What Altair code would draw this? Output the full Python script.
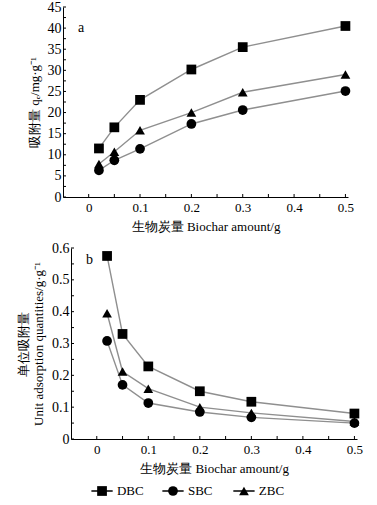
import altair as alt
import pandas as pd

amount = [0.02, 0.05, 0.1, 0.2, 0.3, 0.5]
series = ["DBC", "SBC", "ZBC"]
qe_dbc = [11.5, 16.5, 23.0, 30.2, 35.5, 40.5]
qe_sbc = [6.3, 8.7, 11.4, 17.3, 20.6, 25.1]
qe_zbc = [7.8, 10.7, 15.8, 20.0, 24.8, 29.0]
unit_dbc = [0.575, 0.33, 0.228, 0.15, 0.117, 0.08]
unit_sbc = [0.308, 0.17, 0.113, 0.085, 0.068, 0.05]
unit_zbc = [0.395, 0.212, 0.158, 0.1, 0.082, 0.055]

x_labels = [0, 0.1, 0.2, 0.3, 0.4, 0.5]
x_minor = [0, 0.05, 0.1, 0.15, 0.2, 0.25, 0.3, 0.35, 0.4, 0.45, 0.5]
ya_labels = [0, 5, 10, 15, 20, 25, 30, 35, 40, 45]
ya_minor = [0, 2.5, 5, 7.5, 10, 12.5, 15, 17.5, 20, 22.5, 25, 27.5, 30, 32.5, 35, 37.5, 40, 42.5, 45]
yb_labels = [0, 0.1, 0.2, 0.3, 0.4, 0.5, 0.6]
yb_minor = [0, 0.05, 0.1, 0.15, 0.2, 0.25, 0.3, 0.35, 0.4, 0.45, 0.5, 0.55, 0.6]


def frame(vals):
    rows = []
    for s, v in zip(series, vals):
        for a, y in zip(amount, v):
            rows.append({"amount": a, "series": s, "value": y})
    return pd.DataFrame(rows)


df_a = frame([qe_dbc, qe_sbc, qe_zbc])
df_b = frame([unit_dbc, unit_sbc, unit_zbc])

FONT = "Liberation Serif"
shape_scale = alt.Scale(domain=series, range=["square", "circle", "triangle-up"])
lab0 = "datum.value == 0 ? '0' : format(datum.value, '.1f')"
XDOM = [-0.05, 0.505]


def panel(df, ytitle, ydomain, yvals, yminor, ylabexpr, label, label_y, w, h, shift):
    xs = alt.Scale(domain=XDOM, nice=False, zero=False, range=[shift, w])
    ys = alt.Scale(domain=ydomain, nice=False)
    xax = alt.Axis(values=x_labels, labelExpr=lab0, title="生物炭量 Biochar amount/g",
                   ticks=False, grid=False, labelPadding=4)
    yax = alt.Axis(values=yvals, labelExpr=ylabexpr, title=ytitle, ticks=False,
                   grid=False, offset=-shift, labelPadding=2)
    x = alt.X("amount:Q", scale=xs, axis=xax)
    y = alt.Y("value:Q", scale=ys, axis=yax)
    base = alt.Chart(df).encode(x=x, y=y, detail="series:N")
    lines = base.mark_line(color="#8f8f8f", strokeWidth=1.4)
    pts = base.mark_point(filled=True, color="black", opacity=1, size=95).encode(
        shape=alt.Shape("series:N", scale=shape_scale, legend=None))
    txt = alt.Chart(pd.DataFrame({"t": [label]})).mark_text(
        font=FONT, fontSize=14, align="left", color="black"
    ).encode(text="t:N", x=alt.value(shift + 15), y=alt.value(label_y))
    xt = alt.Chart(pd.DataFrame({"amount": x_minor})).mark_rule(color="black", strokeWidth=1).encode(
        x=alt.X("amount:Q", scale=xs, axis=xax), y=alt.value(h), y2=alt.value(h - 3))
    yt = alt.Chart(pd.DataFrame({"value": yminor})).mark_rule(color="black", strokeWidth=1).encode(
        y=alt.Y("value:Q", scale=ys, axis=yax), x=alt.value(shift), x2=alt.value(shift + 3))
    return alt.layer(lines, pts, txt, xt, yt).properties(width=w, height=h)


top = panel(df_a, "吸附量 qₑ/mg·g⁻¹", [0, 45], ya_labels, ya_minor, "format(datum.value, 'd')",
            "a", 21, 285, 190, 0)
bottom = panel(df_b, ["单位吸附量", "Unit adsorption quantities/g·g⁻¹"], [0, 0.6],
               yb_labels, yb_minor, lab0, "b", 12, 294, 191, 8)

leg_df = pd.DataFrame({"series": series, "idx": [0, 1, 2]})
LDOM = [-0.55, 3.48]
lscale = alt.Scale(domain=LDOM, nice=False, zero=False)
leg_base = alt.Chart(leg_df)
leg_rule = leg_base.transform_calculate(a="datum.idx - 0.15", b="datum.idx + 0.15").mark_rule(
    color="black", strokeWidth=1.5).encode(
    x=alt.X("a:Q", scale=lscale, axis=None), x2="b:Q", y=alt.value(8))
leg_pts = leg_base.mark_point(filled=True, color="black", opacity=1, size=95).encode(
    x=alt.X("idx:Q", scale=lscale, axis=None), y=alt.value(8),
    shape=alt.Shape("series:N", scale=shape_scale, legend=None))
leg_txt = leg_base.transform_calculate(t="datum.idx + 0.21").mark_text(
    font=FONT, fontSize=13, align="left", baseline="middle", color="black").encode(
    x=alt.X("t:Q", scale=lscale, axis=None), y=alt.value(8), text="series:N")
legend = alt.layer(leg_rule, leg_pts, leg_txt).properties(width=286, height=16)

chart = alt.vconcat(top, bottom, legend, spacing=8).properties(
    padding={"left": 17, "top": 0, "right": 5, "bottom": 0}
).configure_view(stroke=None).configure_axis(
    labelFont=FONT, titleFont=FONT, labelFontSize=13, titleFontSize=13,
    labelColor="black", titleColor="black", domainColor="black",
    titleFontWeight="normal", titlePadding=6
).configure_axisY(labelFontSize=14)

chart.save("out.html", embed_options={"renderer": "svg", "actions": False})
